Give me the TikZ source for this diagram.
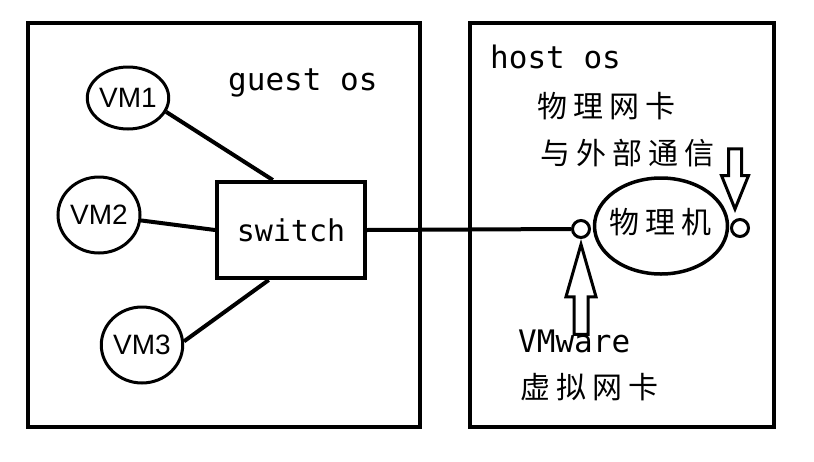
\documentclass[tikz,border=0pt]{standalone}
\usepackage{fontspec}
\setmainfont{Liberation Sans}
\setmonofont{DejaVu Sans Mono}
\newfontfamily\cjk[LetterSpace=20]{Noto Sans CJK SC}
\usetikzlibrary{shapes.geometric,shapes.arrows}
\tikzstyle{osbox}=[rectangle,draw=black,line width=4pt]
\tikzstyle{vm}=[ellipse,draw=black,line width=3pt,inner sep=0pt,
  font=\fontsize{28}{32}\selectfont]
\tikzstyle{sw}=[rectangle,draw=black,line width=4pt,minimum width=148pt,
  minimum height=96pt,font=\ttfamily\fontsize{30}{36}\selectfont]
\tikzstyle{nic}=[circle,draw=black,line width=3pt,inner sep=0pt,minimum size=17pt]
\tikzstyle{label}=[inner sep=0pt,font=\ttfamily\fontsize{31}{36}\selectfont]
\tikzstyle{zh}=[inner sep=0pt,font=\cjk\fontsize{30}{36}\selectfont]
\tikzstyle{hollow}=[single arrow,draw=black,line width=3pt,inner sep=0pt]
\tikzstyle{wire}=[line width=4pt]
\begin{document}
\begin{tikzpicture}[x=1pt,y=-1pt]
    \useasboundingbox (0,0) rectangle (814,461);
    \node [style=osbox,minimum width=392pt,minimum height=404pt] (guestbox) at (224,225) {};
    \node [style=osbox,minimum width=304pt,minimum height=404pt] (hostbox) at (622,225) {};
    \node [style=label,anchor=base west] (guest) at (228,90) {guest os};
    \node [style=label,anchor=base west] (host) at (490,68) {host os};
    \node [style=vm,minimum width=73pt,minimum height=62pt] (vm1) at (128,98) {VM1};
    \node [style=vm,minimum width=82pt,minimum height=76pt] (vm2) at (99,215) {VM2};
    \node [style=vm,minimum width=79pt,minimum height=76pt] (vm3) at (142,345) {VM3};
    \node [style=sw] (switch) at (291,230) {switch};
    \node [style=nic] (nic1) at (581,229) {};
    \node [style=nic] (nic2) at (740,228) {};
    \node [ellipse,draw=black,line width=3.5pt,minimum width=133pt,minimum height=96pt] (pc) at (661,226) {};
    \node [style=zh] (pctext) at (660,222) {物理机};
    \node [style=zh,anchor=west] (phys1) at (537,106) {物理网卡};
    \node [style=zh,anchor=west] (phys2) at (540,153) {与外部通信};
    \node [style=label,anchor=base west] (vmware) at (518,352) {VMware};
    \node [style=zh,anchor=west] (virt) at (520,387) {虚拟网卡};
    \node [style=hollow,rotate=90,anchor=tip,minimum height=90pt,
      single arrow head extend=8pt,single arrow tip angle=32,inner ysep=5.5pt] (uparrow) at (nic1.south) {};
    \node [style=hollow,rotate=-90,anchor=tip,minimum height=60pt,
      single arrow head extend=7pt,single arrow tip angle=44,inner ysep=5pt] (downarrow) at (735,213) {};
    \draw [style=wire] (vm1.-20) to (switch.110);
    \draw [style=wire] (vm2) to (switch.west);
    \draw [style=wire] (vm3.5) to (switch.246);
    \draw [style=wire] (switch.east) to (nic1.west);
  \end{tikzpicture}
\end{document}
